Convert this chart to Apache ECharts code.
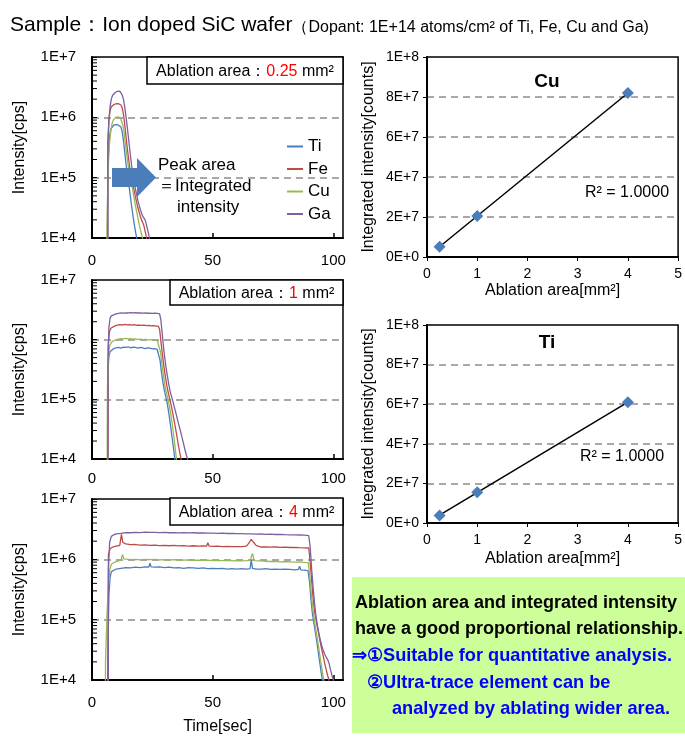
<!DOCTYPE html>
<html>
<head>
<meta charset="utf-8">
<script src="https://cdn.jsdelivr.net/npm/echarts@6/dist/echarts.min.js"></script>
<style>
  html, body { margin: 0; padding: 0; background: #fff; }
  #chart { width: 685px; height: 749px; }
</style>
</head>
<body>
<div id="chart"></div>
<script>
// ---- data ----
var elements = ['Ti', 'Fe', 'Cu', 'Ga'];
var colors = ['#4a7ebb', '#be4b48', '#98b954', '#7d60a0'];
var areaLabels = ['0.25', '1', '4'];

// time [sec], intensity [cps]  -- ablation area 0.25 mm2
var ti025 = [[6.2,50],[6.5,1.2e5],[7,3.8e5],[7.5,5.6e5],[8,6.6e5],[8.5,7.1e5],[9,7.4e5],[9.5,7.5e5],[10,7.6e5],[10.5,7.5e5],[11,7.4e5],[11.5,7.3e5],[12,6.9e5],[12.5,5.8e5],[13,4.2e5],[13.5,2.8e5],[14,1.8e5],[14.5,1.25e5],[15,9e4],[15.5,6.5e4],[16,4.5e4],[16.5,3.2e4],[17,2.3e4],[17.5,1.7e4],[18,1.3e4],[18.5,1e4],[19,7e3]];
var fe025 = [[6.4,50],[6.6,4e5],[7,9e5],[7.5,1.3e6],[8,1.5e6],[8.5,1.6e6],[9,1.62e6],[9.5,1.65e6],[10,1.68e6],[10.5,1.7e6],[11,1.68e6],[11.5,1.66e6],[12,1.6e6],[12.5,1.45e6],[13,1.15e6],[13.5,8e5],[14,5.2e5],[14.5,3.4e5],[15,2.3e5],[15.5,1.6e5],[16,1.2e5],[16.5,9.5e4],[17,7.5e4],[17.5,6e4],[18,4.8e4],[18.5,3.9e4],[19,3.2e4],[19.5,2.7e4],[20,2.3e4],[20.5,2e4],[21,1.8e4],[21.5,1.6e4],[22,1.3e4],[22.5,1.05e4],[23,8e3]];
var cu025 = [[5.9,50],[6.2,1.5e4],[6.7,1.4e5],[7.2,3.5e5],[7.8,6e5],[8.3,7.8e5],[8.8,9e5],[9.3,9.7e5],[9.8,1.0e6],[10.3,1.02e6],[10.8,1.02e6],[11.3,1.0e6],[11.8,9.7e5],[12.3,9e5],[12.8,7.5e5],[13.3,5.5e5],[13.8,3.8e5],[14.3,2.6e5],[14.8,1.8e5],[15.3,1.3e5],[15.8,1.05e5],[16.3,8.5e4],[16.8,6.5e4],[17.3,5e4],[17.8,3.8e4],[18.3,3e4],[18.8,2.4e4],[19.3,1.9e4],[19.8,1.5e4],[20.3,1.25e4],[20.8,1.05e4],[21.2,8e3]];
var ga025 = [[6.5,50],[6.6,3.7e5],[7,9e5],[7.5,1.5e6],[8,2e6],[8.5,2.3e6],[9,2.45e6],[9.5,2.55e6],[10,2.62e6],[10.5,2.7e6],[11,2.75e6],[11.5,2.72e6],[12,2.6e6],[12.5,2.35e6],[13,2e6],[13.5,1.55e6],[14,1.1e6],[14.5,7.5e5],[15,5e5],[15.5,3.3e5],[16,2.2e5],[16.5,1.5e5],[17,1.1e5],[17.5,8.5e4],[18,6.5e4],[18.5,5.2e4],[19,4.2e4],[19.5,3.5e4],[20,3e4],[20.5,2.6e4],[21,2.3e4],[21.5,2.2e4],[22,2e4],[22.5,1.7e4],[23,1.4e4],[23.5,1.15e4],[24,9e3]];

// ablation area 1 mm2
var ti1 = [[6.3,50],[6.6,2.8e5],[7,5.2e5],[7.5,6.3e5],[8,6.8e5],[9,7.1e5],[10,7.3e5],[11,7.4e5],[12,7.2e5],[13,7.5e5],[14,7.4e5],[15,7.6e5],[16,7.3e5],[17,7.5e5],[18,7.4e5],[19,7.2e5],[20,7.4e5],[21,7.3e5],[22,7.1e5],[23,7.3e5],[24,7.2e5],[25,7.0e5],[26,7.1e5],[27,6.9e5],[27.6,6.8e5],[28.2,4.5e5],[28.8,2.8e5],[29.4,1.9e5],[30,1.4e5],[30.6,1.1e5],[31.2,8.5e4],[31.8,6e4],[32.4,4e4],[33,2.6e4],[33.6,1.7e4],[34.2,1.1e4],[34.6,7e3]];
var fe1 = [[6.5,50],[6.7,8e5],[7.2,1.35e6],[7.8,1.55e6],[8.5,1.62e6],[9.5,1.7e6],[10.5,1.75e6],[11.5,1.78e6],[12.5,1.76e6],[13.5,1.8e6],[14.5,1.77e6],[15.5,1.79e6],[16.5,1.75e6],[17.5,1.78e6],[18.5,1.74e6],[19.5,1.76e6],[20.5,1.73e6],[21.5,1.75e6],[22.5,1.72e6],[23.5,1.74e6],[24.5,1.7e6],[25.5,1.72e6],[26.5,1.69e6],[27.5,1.68e6],[28,1.5e6],[28.6,9e5],[29.2,5.5e5],[29.8,3.5e5],[30.4,2.4e5],[31,1.7e5],[31.6,1.3e5],[32.2,1.02e5],[32.8,8e4],[33.4,6e4],[34,4.5e4],[34.6,3.3e4],[35.2,2.4e4],[35.8,1.7e4],[36.4,1.25e4],[37,9.5e3],[37.3,6e3]];
var cu1 = [[6.1,50],[6.4,1.5e5],[6.8,5e5],[7.3,7.8e5],[8,9e5],[9,9.6e5],[10,1.0e6],[11,1.02e6],[12,1.04e6],[13,1.03e6],[14,1.05e6],[15,1.03e6],[16,1.04e6],[17,1.02e6],[18,1.03e6],[19,1.01e6],[20,1.02e6],[21,1.0e6],[22,1.01e6],[23,1.0e6],[24,9.9e5],[25,1.0e6],[26,9.8e5],[27,9.7e5],[27.8,9.5e5],[28.4,6.2e5],[29,3.8e5],[29.6,2.5e5],[30.2,1.7e5],[30.8,1.3e5],[31.4,1.05e5],[32,8e4],[32.6,5.8e4],[33.2,4e4],[33.8,2.6e4],[34.4,1.6e4],[35,1e4],[35.3,7e3]];
var ga1 = [[6.5,50],[6.6,3.6e5],[7,1.6e6],[7.5,2.3e6],[8,2.5e6],[9,2.6e6],[10,2.7e6],[11,2.75e6],[12,2.8e6],[13,2.78e6],[14,2.82e6],[15,2.8e6],[16,2.85e6],[17,2.8e6],[18,2.83e6],[19,2.8e6],[20,2.82e6],[21,2.78e6],[22,2.8e6],[23,2.77e6],[24,2.79e6],[25,2.76e6],[26,2.78e6],[27,2.75e6],[28,2.7e6],[28.5,2.2e6],[29,1.4e6],[29.5,8.5e5],[30,5.5e5],[30.6,3.6e5],[31.2,2.5e5],[31.8,1.8e5],[32.4,1.35e5],[33,1.1e5],[33.6,9e4],[34.2,7.2e4],[34.8,5.8e4],[35.4,4.6e4],[36,3.7e4],[36.6,3e4],[37.2,2.4e4],[37.8,1.9e4],[38.4,1.5e4],[39,1.2e4],[39.6,1e4],[40,7e3]];

// ablation area 4 mm2
var ti4 = [[6.2,50],[6.5,1.5e4],[7,2.5e5],[7.5,5e5],[8,6.2e5],[9,6.6e5],[10,6.9e5],[12,7.1e5],[14,7.3e5],[16,7.2e5],[18,7.4e5],[20,7.3e5],[22,7.5e5],[23.5,7.4e5],[24,8.6e5],[24.5,7.5e5],[26,7.4e5],[28,7.5e5],[30,7.3e5],[32,7.4e5],[34,7.2e5],[36,7.3e5],[38,7.1e5],[40,7.3e5],[42,7.2e5],[44,7.1e5],[46,7.2e5],[48,7.0e5],[50,7.1e5],[52,7.0e5],[54,7.1e5],[56,6.9e5],[58,7.0e5],[60,6.9e5],[62,7.0e5],[64,6.9e5],[65.5,7.0e5],[66,9.8e5],[66.5,7.1e5],[68,6.9e5],[70,6.9e5],[72,7.0e5],[74,6.8e5],[76,6.9e5],[78,6.8e5],[80,6.9e5],[82,6.8e5],[84,6.7e5],[85.5,6.8e5],[86,7.7e5],[86.5,6.7e5],[88,6.6e5],[89.5,6.5e5],[90.2,4e5],[90.8,2e5],[91.4,1.2e5],[92,8.5e4],[92.6,6e4],[93.2,4.2e4],[93.8,2.8e4],[94.4,1.9e4],[95,1.3e4],[95.6,9e3],[96,6e3]];
var fe4 = [[6.6,50],[6.8,1.2e6],[7.5,1.5e6],[8.5,1.6e6],[10,1.65e6],[11.5,1.7e6],[12.2,2.6e6],[12.8,1.9e6],[14,1.8e6],[16,1.75e6],[18,1.76e6],[20,1.72e6],[22,1.74e6],[24,1.7e6],[26,1.72e6],[28,1.69e6],[30,1.71e6],[32,1.68e6],[34,1.7e6],[36,1.67e6],[38,1.69e6],[40,1.66e6],[42,1.68e6],[44,1.65e6],[46,1.67e6],[47.5,1.66e6],[48,1.88e6],[48.5,1.66e6],[50,1.64e6],[52,1.65e6],[54,1.63e6],[56,1.64e6],[58,1.62e6],[60,1.63e6],[62,1.62e6],[64,1.65e6],[65,1.85e6],[66,2.15e6],[67,1.9e6],[68,1.7e6],[70,1.6e6],[72,1.61e6],[74,1.59e6],[76,1.6e6],[78,1.58e6],[80,1.59e6],[82,1.57e6],[84,1.58e6],[86,1.56e6],[88,1.55e6],[89.8,1.54e6],[90.4,9e5],[91,4.5e5],[91.6,2.3e5],[92.2,1.4e5],[92.8,1e5],[93.4,7.5e4],[94,5.6e4],[94.6,4.2e4],[95.2,3.2e4],[95.8,2.5e4],[96.4,1.9e4],[97,1.5e4],[97.6,1.2e4],[98.2,1e4],[98.6,6e3]];
var cu4 = [[5.3,50],[5.6,2e4],[6.2,1.2e5],[6.8,3.5e5],[7.3,6.5e5],[8,8.3e5],[9,8.8e5],[10,9.2e5],[11,9.4e5],[12,9.6e5],[12.6,1.2e6],[13.2,1.02e6],[14,9.8e5],[16,9.9e5],[18,1.0e6],[20,9.8e5],[22,1.0e6],[24,9.9e5],[26,1.0e6],[28,9.8e5],[30,9.9e5],[32,9.7e5],[34,9.9e5],[36,9.8e5],[38,9.7e5],[40,9.8e5],[42,9.6e5],[44,9.7e5],[46,9.6e5],[48,9.7e5],[50,9.5e5],[52,9.6e5],[54,9.5e5],[56,9.6e5],[58,9.4e5],[60,9.5e5],[62,9.4e5],[64,9.5e5],[65.5,9.6e5],[66.5,1.25e6],[67.2,9.5e5],[68,9.3e5],[70,9.4e5],[72,9.3e5],[74,9.2e5],[76,9.3e5],[78,9.1e5],[80,9.2e5],[82,9.1e5],[84,9.0e5],[86,9.1e5],[88,8.9e5],[89.6,8.8e5],[90.3,5e5],[90.9,2.6e5],[91.5,1.5e5],[92.1,1e5],[92.7,7e4],[93.3,5e4],[93.9,3.5e4],[94.5,2.4e4],[95.1,1.7e4],[95.7,1.2e4],[96.3,9e3],[96.6,6e3]];
var ga4 = [[6.6,50],[6.8,6.6e5],[7.3,1.9e6],[8,2.4e6],[9,2.55e6],[10,2.65e6],[12,2.7e6],[14,2.78e6],[16,2.76e6],[18,2.8e6],[20,2.78e6],[22,2.82e6],[24,2.79e6],[26,2.8e6],[28,2.77e6],[30,2.79e6],[32,2.76e6],[34,2.78e6],[36,2.75e6],[38,2.77e6],[40,2.74e6],[42,2.76e6],[44,2.73e6],[46,2.74e6],[48,2.71e6],[50,2.72e6],[52,2.7e6],[54,2.71e6],[56,2.68e6],[58,2.69e6],[60,2.66e6],[62,2.67e6],[64,2.64e6],[66,2.65e6],[68,2.62e6],[70,2.63e6],[72,2.6e6],[74,2.61e6],[76,2.58e6],[78,2.59e6],[80,2.56e6],[82,2.55e6],[84,2.54e6],[86,2.53e6],[88,2.51e6],[89.8,2.48e6],[90.4,1.6e6],[91,7e5],[91.6,3.5e5],[92.2,1.9e5],[92.8,1.15e5],[93.4,8e4],[94,6e4],[94.6,4.6e4],[95.2,3.7e4],[95.8,3.1e4],[96.4,2.7e4],[97,2.4e4],[97.6,2.2e4],[98.2,1.9e4],[98.8,1.5e4],[99.4,1.2e4],[100,1e4],[100.3,6e3]];

var traces = [
  [ti025, fe025, cu025, ga025],
  [ti1, fe1, cu1, ga1],
  [ti4, fe4, cu4, ga4]
];

// integrated intensity vs ablation area
var areas = [0.25, 1, 4];
var cuIntegrated = [5.1e6, 2.05e7, 8.2e7];
var tiIntegrated = [3.8e6, 1.55e7, 6.1e7];

// minor ticks of the log axes
var minorTicks = [2e4,3e4,4e4,5e4,6e4,7e4,8e4,9e4,2e5,3e5,4e5,5e5,6e5,7e5,8e5,9e5,2e6,3e6,4e6,5e6,6e6,7e6,8e6,9e6];

// ---- chart ----
var FONT = '"Liberation Sans", Arial, sans-serif';
var chart = echarts.init(document.getElementById('chart'));

var leftGrids = [
  { left: 92, top: 57, width: 251, height: 181 },
  { left: 92, top: 280, width: 251, height: 179 },
  { left: 92, top: 499, width: 251, height: 181 }
];
var xLabelMargin = [15, 12, 15];
var rightGrids = [
  { left: 427, top: 57, width: 253, height: 200 },
  { left: 427, top: 325, width: 253, height: 198 }
];

function sciLabel(v) {
  if (v === 0) return '0E+0';
  var e = Math.floor(Math.log10(v) + 1e-9);
  var m = Math.round(v / Math.pow(10, e));
  return m + 'E+' + e;
}

function trend(xs, ys) {
  var n = xs.length, sx = 0, sy = 0, sxy = 0, sxx = 0;
  for (var i = 0; i < n; i++) { sx += xs[i]; sy += ys[i]; sxy += xs[i] * ys[i]; sxx += xs[i] * xs[i]; }
  var b = (n * sxy - sx * sy) / (n * sxx - sx * sx);
  var a = (sy - b * sx) / n;
  return [[xs[0], a + b * xs[0]], [xs[n - 1], a + b * xs[n - 1]]];
}

var grids = [], xAxes = [], yAxes = [], series = [];
leftGrids.forEach(function (g, i) {
  grids.push(Object.assign({ show: true, borderColor: '#000', borderWidth: 1.5, containLabel: false }, g));
  xAxes.push({
    type: 'value', gridIndex: i, min: 0, max: 104, interval: 50,
    name: i === 2 ? 'Time[sec]' : '', nameLocation: 'middle', nameGap: 39,
    nameTextStyle: { fontSize: 16, color: '#000', fontFamily: FONT },
    axisLine: { lineStyle: { color: '#000', width: 2 } },
    axisTick: { inside: true, length: 5, lineStyle: { color: '#000', width: 1.5 } },
    axisLabel: {
      fontSize: 15, color: '#000', fontFamily: FONT, margin: xLabelMargin[i], showMaxLabel: false,
      formatter: function (v) { return v % 50 === 0 ? String(v) : ''; }
    },
    splitLine: { show: false }
  });
  yAxes.push({
    type: 'log', logBase: 10, gridIndex: i, min: 1e4, max: 1e7,
    name: 'Intensity[cps]', nameLocation: 'middle', nameGap: 64,
    nameTextStyle: { fontSize: 16, color: '#000', fontFamily: FONT },
    axisLine: { lineStyle: { color: '#000', width: 2 } },
    axisTick: { inside: true, length: 5, lineStyle: { color: '#000', width: 1 } },
    axisLabel: {
      fontSize: 15, color: '#000', fontFamily: FONT, margin: 16,
      formatter: function (v) { return '1E+' + Math.round(Math.log10(v)); }
    },
    splitLine: { show: true, showMinLine: false, showMaxLine: false, lineStyle: { color: '#8c8c8c', width: 1.5, type: [7, 5] } }
  });
  traces[i].forEach(function (d, k) {
    series.push({
      name: elements[k], type: 'line', xAxisIndex: i, yAxisIndex: i,
      data: d, symbol: 'none', clip: true,
      lineStyle: { color: colors[k], width: 1.3 }, itemStyle: { color: colors[k] }
    });
  });
  series.push({
    type: 'custom', xAxisIndex: i, yAxisIndex: i, silent: true, z: 5,
    data: minorTicks.map(function (v) { return [0, v]; }),
    renderItem: function (params, api) {
      var p = api.coord([0, api.value(1)]);
      return { type: 'line', shape: { x1: p[0], y1: p[1], x2: p[0] + 5, y2: p[1] }, style: { stroke: '#000', lineWidth: 1 } };
    }
  });
});

var rightData = [cuIntegrated, tiIntegrated];
rightGrids.forEach(function (g, j) {
  var idx = 3 + j;
  grids.push(Object.assign({ show: true, borderColor: '#000', borderWidth: 1.5 }, g));
  xAxes.push({
    type: 'value', gridIndex: idx, min: 0, max: 5, interval: 1,
    name: 'Ablation area[mm²]', nameLocation: 'middle', nameGap: 26 + j * 2,
    nameTextStyle: { fontSize: 16, color: '#000', fontFamily: FONT },
    axisLine: { lineStyle: { color: '#000', width: 2 } },
    axisTick: { show: true, length: 4, lineStyle: { color: '#000' } },
    axisLabel: { fontSize: 14, color: '#000', fontFamily: FONT, margin: 10 },
    splitLine: { show: false }
  });
  yAxes.push({
    type: 'value', gridIndex: idx, min: 0, max: 1e8, interval: 2e7,
    name: 'Integrated intensity[counts]', nameLocation: 'middle', nameGap: 50,
    nameTextStyle: { fontSize: 16, color: '#000', fontFamily: FONT },
    axisLine: { show: true, lineStyle: { color: '#000', width: 2 } },
    axisTick: { show: true, length: 4, lineStyle: { color: '#000' } },
    axisLabel: { fontSize: 14, color: '#000', fontFamily: FONT, margin: 8, formatter: sciLabel },
    splitLine: { show: true, showMinLine: false, showMaxLine: false, lineStyle: { color: '#8c8c8c', width: 1.5, type: [7, 5] } }
  });
  series.push({
    type: 'line', xAxisIndex: idx, yAxisIndex: idx, symbol: 'none',
    data: trend(areas, rightData[j]), lineStyle: { color: '#000', width: 1.5 }, z: 3
  });
  series.push({
    type: 'scatter', xAxisIndex: idx, yAxisIndex: idx, symbol: 'diamond', symbolSize: 12,
    data: areas.map(function (a, k) { return [a, rightData[j][k]]; }),
    itemStyle: { color: '#4a7ebb', opacity: 1 }, z: 4
  });
});

function boxText(x, y, w, h, area) {
  return [
    { type: 'rect', shape: { x: x, y: y, width: w, height: h }, style: { fill: '#fff', stroke: '#000', lineWidth: 1.5 }, z: 20 },
    {
      type: 'text', x: x + w / 2, y: y + h / 2 + 1, z: 21,
      style: {
        text: '{a|Ablation area：}{r|' + area + '}{a| mm²}', align: 'center', verticalAlign: 'middle',
        rich: {
          a: { fontSize: 16, fontFamily: FONT, fill: '#000' },
          r: { fontSize: 16, fontFamily: FONT, fill: '#ff0000' }
        }
      }
    }
  ];
}

var textStyle = function (size, color, bold) {
  return { fontSize: size, fontFamily: FONT, fill: color, fontWeight: bold ? 'bold' : 'normal' };
};

var graphics = [
  {
    type: 'text', x: 10, y: 24, z: 20,
    style: {
      text: '{a|Sample：Ion doped SiC wafer}{b|（Dopant: 1E+14 atoms/cm² of Ti, Fe, Cu and Ga)}',
      verticalAlign: 'middle',
      rich: {
        a: { fontSize: 21, fontFamily: FONT, fill: '#000', verticalAlign: 'bottom', lineHeight: 23 },
        b: { fontSize: 16, fontFamily: FONT, fill: '#000', verticalAlign: 'bottom', lineHeight: 20 }
      }
    }
  },
  {
    type: 'polygon', z: 25,
    shape: { points: [[112, 168], [137, 168], [137, 158], [156, 177.5], [137, 197], [137, 187], [112, 187]] },
    style: { fill: '#4a7dba' }
  },
  { type: 'text', x: 158, y: 165, z: 21, style: Object.assign({ text: 'Peak area', verticalAlign: 'middle' }, textStyle(17, '#000')) },
  { type: 'text', x: 158, y: 186, z: 21, style: Object.assign({ text: '＝Integrated', verticalAlign: 'middle' }, textStyle(17, '#000')) },
  { type: 'text', x: 177, y: 207, z: 21, style: Object.assign({ text: 'intensity', verticalAlign: 'middle' }, textStyle(17, '#000')) },
  { type: 'text', x: 547, y: 82, z: 21, style: Object.assign({ text: 'Cu', align: 'center', verticalAlign: 'middle' }, textStyle(19, '#000', true)) },
  { type: 'text', x: 547, y: 343, z: 21, style: Object.assign({ text: 'Ti', align: 'center', verticalAlign: 'middle' }, textStyle(19, '#000', true)) },
  { type: 'text', x: 627, y: 193, z: 21, style: Object.assign({ text: 'R² = 1.0000', align: 'center', verticalAlign: 'middle' }, textStyle(16, '#000')) },
  { type: 'text', x: 622, y: 457, z: 21, style: Object.assign({ text: 'R² = 1.0000', align: 'center', verticalAlign: 'middle' }, textStyle(16, '#000')) },
  { type: 'rect', shape: { x: 352, y: 577, width: 333, height: 156 }, style: { fill: '#ccff99' }, z: 19 },
  { type: 'text', x: 355, y: 603, z: 21, style: Object.assign({ text: 'Ablation area and integrated intensity', verticalAlign: 'middle' }, textStyle(18, '#000', true)) },
  { type: 'text', x: 355, y: 629, z: 21, style: Object.assign({ text: 'have a good proportional relationship.', verticalAlign: 'middle' }, textStyle(18, '#000', true)) },
  { type: 'text', x: 352, y: 656, z: 21, style: Object.assign({ text: '⇒①Suitable for quantitative analysis.', verticalAlign: 'middle' }, textStyle(18.2, '#0000ff', true)) },
  { type: 'text', x: 367, y: 683, z: 21, style: Object.assign({ text: '②Ultra-trace element can be', verticalAlign: 'middle' }, textStyle(18.2, '#0000ff', true)) },
  { type: 'text', x: 392, y: 709, z: 21, style: Object.assign({ text: 'analyzed by ablating wider area.', verticalAlign: 'middle' }, textStyle(18.2, '#0000ff', true)) }
]
  .concat(boxText(147, 57, 196, 27, areaLabels[0]))
  .concat(boxText(170, 280, 173, 25, areaLabels[1]))
  .concat(boxText(170, 498, 173, 27, areaLabels[2]));

chart.setOption({
  animation: false,
  backgroundColor: '#fff',
  textStyle: { fontFamily: FONT },
  legend: {
    data: elements, orient: 'vertical', left: 287, top: 138, padding: 0,
    icon: 'rect', itemWidth: 16, itemHeight: 2, itemGap: 5.5,
    textStyle: { fontSize: 17, color: '#000', fontFamily: FONT },
    selectedMode: false
  },
  grid: grids,
  xAxis: xAxes,
  yAxis: yAxes,
  series: series,
  graphic: graphics
});
</script>
</body>
</html>
